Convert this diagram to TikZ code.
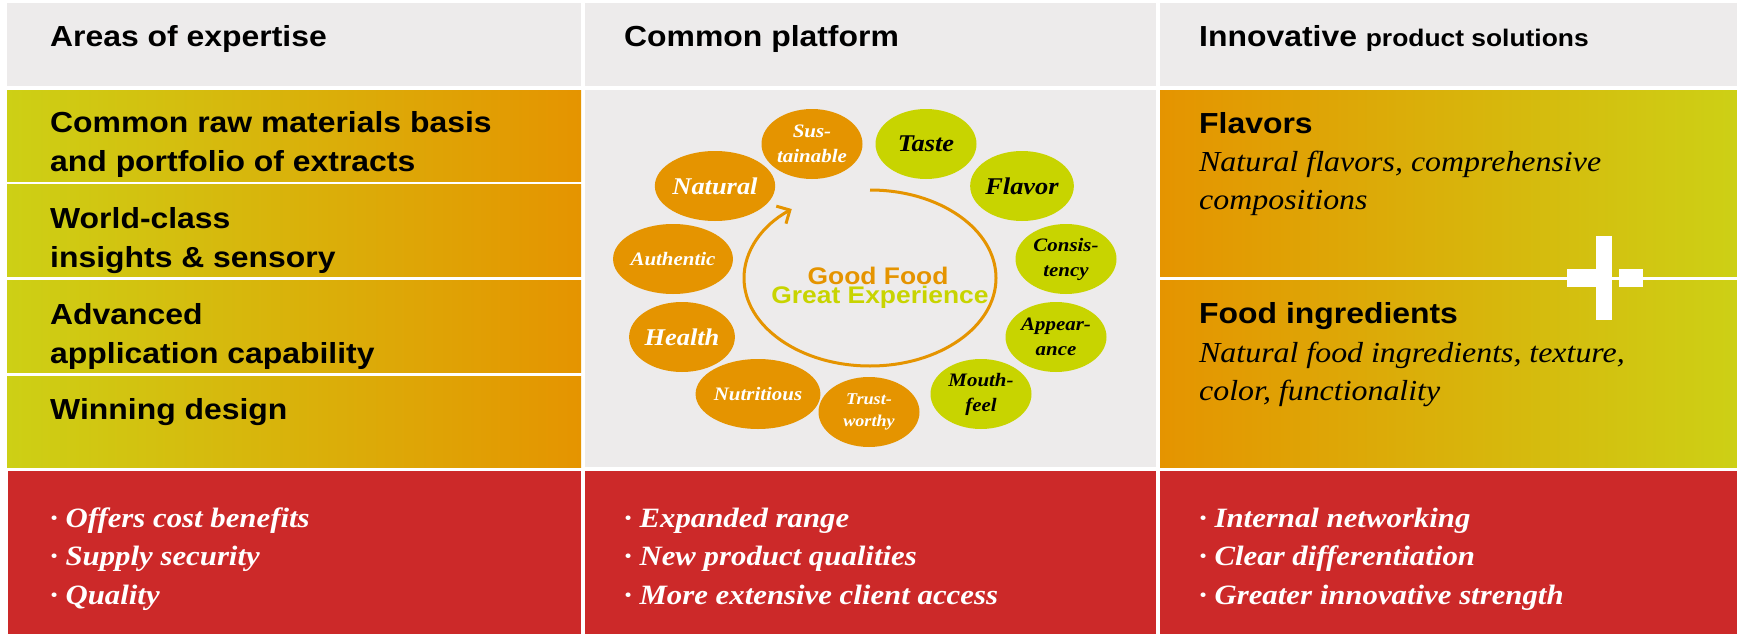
\documentclass[tikz,border=0pt]{standalone}
\usepackage{fontspec}
\setmainfont{Liberation Serif}[FakeStretch=1.1]
\setsansfont{Liberation Sans}[FakeStretch=1.1]
\usetikzlibrary{shapes.geometric,arrows.meta}
\definecolor{orng}{RGB}{229,148,0}
\definecolor{lime}{RGB}{205,208,21}
\definecolor{leaf}{RGB}{200,212,0}
\definecolor{paper}{RGB}{237,235,235}
\definecolor{brick}{RGB}{204,41,41}

\begin{document}
\begin{tikzpicture}[x=1pt,y=-1pt,>={Straight Barb[length=10pt,width=20pt]},
	hdr/.style={font=\sffamily\bfseries\fontsize{29}{39}\selectfont,anchor=base west,inner sep=0pt,align=left},
	note/.style={font=\itshape\fontsize{29}{38.5}\selectfont,anchor=base west,inner sep=0pt,align=left},
	perk/.style={font=\bfseries\itshape\fontsize{28}{38.5}\selectfont,text=white,anchor=base west,inner sep=0pt,align=left},
	motto/.style={font=\sffamily\bfseries\fontsize{24}{20}\selectfont,anchor=base,inner sep=0pt},
	pill/.style={ellipse,minimum width=101pt,minimum height=70pt,inner sep=0pt,align=center},
	ora/.style={pill,fill=orng,text=white},
	grn/.style={pill,fill=leaf,text=black},
	fbig/.style={font=\bfseries\itshape\fontsize{24}{26}\selectfont},
	fmid/.style={font=\bfseries\itshape\fontsize{19}{25}\selectfont},
	fsml/.style={font=\bfseries\itshape\fontsize{16.5}{21.5}\selectfont}]
		\fill[white] (0,0) rectangle (1737,634);
		\useasboundingbox (0,0) rectangle (1737,634);
		
		\fill[paper] (7,3) rectangle (581,86);
		\fill[paper] (585,3) rectangle (1156,86);
		\fill[paper] (1160,3) rectangle (1737,86);
		
		\foreach \t/\b in {90/181,184/276,280/372,376/467}
			\shade[left color=lime,right color=orng] (7,\t) rectangle (581,\b);
		\fill[paper] (585,90) rectangle (1156,467);
		\shade[left color=orng,right color=lime] (1160,90) rectangle (1737,276);
		\shade[left color=orng,right color=lime] (1160,280) rectangle (1737,467);
		
		\fill[brick] (8,471) rectangle (581,634);
		\fill[brick] (585,471) rectangle (1156,634);
		\fill[brick] (1160,471) rectangle (1737,634);
		
		% plus mark on the right column
		\fill[white] (1596,236) rectangle (1612,320);
		\fill[white] (1567,269) rectangle (1596,287);
		\fill[white] (1619,269) rectangle (1643,287);
		
		% multi-line texts sit on the baseline of their last line
		\node[hdr](t1)at(50,47) {Areas of expertise};
		\node[hdr](t2)at(624,47) {Common platform};
		\node[hdr](t3)at(1199,47) {Innovative {\fontsize{24}{26}\selectfont product solutions}};
		
		\node[hdr](a1)at(50,171) {Common raw materials basis\\and portfolio of extracts};
		\node[hdr](a2)at(50,267) {World-class\\insights \& sensory};
		\node[hdr](a3)at(50,363) {Advanced\\application capability};
		\node[hdr](a4)at(50,419) {Winning design};
		
		\node[hdr](p1)at(1199,133) {Flavors};
		\node[note](n1)at(1199,209.5) {Natural flavors, comprehensive\\compositions};
		\node[hdr](p2)at(1199,323) {Food ingredients};
		\node[note](n2)at(1199,400.5) {Natural food ingredients, texture,\\color, functionality};
		
		\node[perk](b1)at(50,604) {· Offers cost benefits\\· Supply security\\· Quality};
		\node[perk](b2)at(624,604) {· Expanded range\\· New product qualities\\· More extensive client access};
		\node[perk](b3)at(1199,604) {· Internal networking\\· Clear differentiation\\· Greater innovative strength};
		
		\node[ora,fmid](e1)at(812,144) {Sus-\\tainable};
		\node[grn,fbig](e2)at(926,144) {Taste};
		\node[ora,fbig](e3)at(715,186) {Natural};
		\node[grn,fbig](e4)at(1022,186) {Flavor};
		\node[ora,fmid](e5)at(673,259) {Authentic};
		\node[grn,fmid](e6)at(1066,259) {Consis-\\tency};
		\node[ora,fbig](e7)at(682,337) {Health};
		\node[grn,fmid](e8)at(1056,337) {Appear-\\ance};
		\node[ora,fmid](e9)at(758,394) {Nutritious};
		\node[ora,fsml](e10)at(869,412) {Trust-\\worthy};
		\node[grn,fmid](e11)at(981,394) {Mouth-\\feel};
		
		\draw[orng,line width=3pt,->] (870,190) arc[start angle=90,end angle=-231.6,x radius=126pt,y radius=88pt];
		\node[motto,text=orng](g1)at(878,284) {Good Food};
		\node[motto,text=leaf](g2)at(880,303) {Great Experience};
	\end{tikzpicture}
\end{document}
